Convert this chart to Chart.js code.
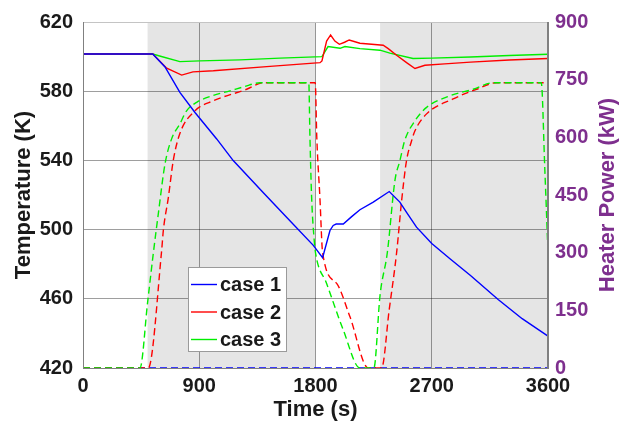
<!DOCTYPE html>
<html>
<head>
<meta charset="utf-8">
<script src="https://cdn.jsdelivr.net/npm/chart.js@4.4.1/dist/chart.umd.min.js"></script>
<style>
  html, body { margin: 0; padding: 0; background: #fff; }
  #wrap { width: 632px; height: 428px; }
</style>
</head>
<body>
<div id="wrap"><canvas id="heatChart"></canvas></div>
<script>
// series names and colours
const caseNames = ['case 1', 'case 2', 'case 3'];
const caseColors = ['#0000ff', '#ff0000', '#00ee00'];

// axis ticks
const timeTicks = [0, 900, 1800, 2700, 3600];
const tempTicks = [420, 460, 500, 540, 580, 620];
const powerTicks = [0, 150, 300, 450, 600, 750, 900];

// heater-on periods (s), shaded grey
const heatedSpans = [[500, 1800], [2300, 3600]];

// temperature (K)
const case1TempTime = [0, 540, 635, 750, 867, 1035, 1163, 1400, 1600, 1783, 1855, 1912, 1937, 1960, 2015, 2080, 2144, 2247, 2371, 2453, 2505, 2582, 2700, 2841, 3000, 3214, 3400, 3600];
const case1Temp = [601.5, 601.5, 594.0, 579.3, 567.7, 552.4, 539.9, 521.0, 505.3, 490.9, 483.8, 499.5, 502.4, 503.2, 503.2, 507.5, 511.5, 515.9, 522.0, 515.9, 510.0, 501.4, 492.0, 483.2, 473.5, 459.6, 448.5, 438.4];

const case2TempTime = [0, 540, 648, 764, 851, 1009, 1422, 1835, 1850, 1886, 1917, 1950, 1985, 2025, 2061, 2144, 2324, 2363, 2428, 2505, 2570, 2647, 2800, 3000, 3300, 3600];
const case2Temp = [601.5, 601.5, 593.3, 589.3, 591.2, 591.8, 594.2, 596.5, 597.5, 609.0, 612.5, 609.0, 607.1, 608.3, 609.6, 607.7, 606.6, 604.6, 600.8, 596.5, 593.1, 595.0, 595.8, 596.8, 598.0, 598.9];

const case3TempTime = [0, 540, 600, 750, 905, 1215, 1525, 1850, 1897, 1990, 2028, 2144, 2299, 2376, 2555, 2700, 3000, 3300, 3600];
const case3Temp = [601.5, 601.5, 600.2, 597.1, 597.5, 598.1, 599.1, 600.0, 605.8, 604.8, 605.8, 604.6, 603.7, 602.0, 598.9, 599.1, 599.8, 600.6, 601.4];

// heater power (kW)
const case1PowerTime = [0, 3600];
const case1Power = [0, 0];

const case2PowerTime = [0, 505, 609, 622, 661, 699, 750, 867, 1009, 1267, 1396, 1798, 1810, 1834, 1855, 1964, 2067, 2209, 2312, 2370, 2428, 2467, 2505, 2544, 2570, 2660, 2866, 3047, 3202, 3600];
const case2Power = [0, 0, 306, 358, 444, 540, 610, 669, 695, 725, 742, 742, 600, 444, 300, 220, 133, 0, 0, 150, 300, 436, 540, 591, 617, 661, 700, 725, 742, 742];

const case3PowerTime = [0, 441, 500, 545, 583, 635, 686, 750, 802, 880, 1000, 1138, 1250, 1370, 1748, 1757, 1770, 1790, 1800, 1886, 2015, 2144, 2252, 2300, 2356, 2415, 2454, 2490, 2570, 2660, 2841, 3021, 3176, 3548, 3575, 3600];
const case3Power = [0, 0, 170, 300, 401, 531, 596, 635, 669, 691, 708, 721, 732, 742, 742, 600, 444, 332, 300, 220, 99, 0, 0, 190, 300, 488, 540, 591, 643, 678, 708, 725, 742, 742, 520, 300];

const purple = '#7e2f8e';
const inkColor = '#1a1a1a';
const fontFamily = '"Liberation Sans", Arial, sans-serif';

const toPoints = (xs, ys) => xs.map((x, i) => ({ x: x, y: ys[i] }));

// grey bands behind the grid
const shadePlugin = {
    id: 'shade',
    beforeDraw(chart) {
        const { ctx, chartArea, scales } = chart;
        ctx.save();
        ctx.fillStyle = '#e5e5e5';
        heatedSpans.forEach(([a, b]) => {
            const x0 = scales.x.getPixelForValue(a);
            const x1 = scales.x.getPixelForValue(b);
            ctx.fillRect(x0, chartArea.top, x1 - x0, chartArea.bottom - chartArea.top);
        });
        ctx.restore();
    }
};

// plot frame, right-hand title (reads bottom to top) and the legend box
const frameLegendPlugin = {
    id: 'frameLegend',
    afterDraw(chart) {
        const { ctx, chartArea } = chart;
        const { left, right, top, bottom } = chartArea;
        ctx.save();
        ctx.lineWidth = 1;
        ctx.strokeStyle = '#c4c4c4';
        ctx.beginPath();
        ctx.moveTo(left, top + 0.5);
        ctx.lineTo(right, top + 0.5);
        ctx.stroke();
        ctx.strokeStyle = '#808080';
        ctx.beginPath();
        ctx.moveTo(left + 0.5, top);
        ctx.lineTo(left + 0.5, bottom);
        ctx.moveTo(right - 0.5, top);
        ctx.lineTo(right - 0.5, bottom);
        ctx.stroke();

        // y2 title
        ctx.save();
        ctx.translate(608, (top + bottom) / 2);
        ctx.rotate(-Math.PI / 2);
        ctx.font = 'bold 22px ' + fontFamily;
        ctx.fillStyle = purple;
        ctx.textAlign = 'center';
        ctx.textBaseline = 'middle';
        ctx.fillText('Heater Power (kW)', 0, 0);
        ctx.restore();

        // legend
        const bx = 188.5, by = 267.5, bw = 98, bh = 84;
        ctx.fillStyle = '#ffffff';
        ctx.fillRect(bx, by, bw, bh);
        ctx.strokeStyle = '#9a9a9a';
        ctx.strokeRect(bx, by, bw, bh);
        ctx.font = 'bold 20px ' + fontFamily;
        ctx.textBaseline = 'middle';
        ctx.textAlign = 'left';
        caseNames.forEach((name, i) => {
            const y = 284.5 + i * 27.5;
            ctx.strokeStyle = caseColors[i];
            ctx.lineWidth = 1.4;
            ctx.beginPath();
            ctx.moveTo(191, y);
            ctx.lineTo(217, y);
            ctx.stroke();
            ctx.fillStyle = inkColor;
            ctx.fillText(name, 220, y + 1);
        });
        ctx.restore();
    }
};

const tempSets = [
    [case1TempTime, case1Temp],
    [case2TempTime, case2Temp],
    [case3TempTime, case3Temp]
].map(([t, v], i) => ({
    label: caseNames[i],
    data: toPoints(t, v),
    yAxisID: 'y',
    borderColor: caseColors[i],
    borderWidth: 1.4,
    pointRadius: 0,
    tension: 0,
    order: 0
}));

const powerSets = [
    [case1PowerTime, case1Power],
    [case2PowerTime, case2Power],
    [case3PowerTime, case3Power]
].map(([t, v], i) => ({
    label: caseNames[i] + ' power',
    data: toPoints(t, v),
    yAxisID: 'y2',
    borderColor: caseColors[i],
    borderWidth: 1.4,
    borderDash: [7, 4],
    pointRadius: 0,
    cubicInterpolationMode: 'monotone',
    order: 3 - i
}));

const tickFont = { family: fontFamily, size: 20, weight: 'bold' };
const titleFont = { family: fontFamily, size: 22, weight: 'bold' };

new Chart(document.getElementById('heatChart'), {
    type: 'line',
    data: { datasets: tempSets.concat(powerSets) },
    options: {
        responsive: true,
        maintainAspectRatio: false,
        animation: false,
        layout: { padding: { top: 21, left: 0, right: 0, bottom: 0 } },
        plugins: { legend: { display: false }, tooltip: { enabled: false } },
        scales: {
            x: {
                type: 'linear',
                min: 0,
                max: 3600,
                afterFit: (s) => { s.height = 60; },
                afterBuildTicks: (s) => { s.ticks = timeTicks.map(v => ({ value: v })); },
                ticks: { color: inkColor, padding: 6, font: tickFont, callback: (v) => String(v) },
                grid: { color: 'rgba(0,0,0,0.38)', drawTicks: false },
                border: { color: '#808080' },
                title: {
                    display: true,
                    text: 'Time (s)',
                    color: inkColor,
                    padding: { top: 0, bottom: 5 },
                    font: titleFont
                }
            },
            y: {
                position: 'left',
                min: 420,
                max: 620,
                afterFit: (s) => { s.width = 83; },
                afterBuildTicks: (s) => { s.ticks = tempTicks.map(v => ({ value: v })); },
                ticks: { color: inkColor, padding: 10, font: tickFont, callback: (v) => String(v) },
                grid: { color: 'rgba(0,0,0,0.38)', drawTicks: false },
                border: { color: '#808080' },
                title: {
                    display: true,
                    text: 'Temperature (K)',
                    color: inkColor,
                    padding: { top: 11, bottom: 0 },
                    font: titleFont
                }
            },
            y2: {
                position: 'right',
                min: 0,
                max: 900,
                afterFit: (s) => { s.width = 84; },
                afterBuildTicks: (s) => { s.ticks = powerTicks.map(v => ({ value: v })); },
                ticks: { color: purple, padding: 7, font: tickFont, callback: (v) => String(v) },
                grid: { display: false, drawTicks: false },
                border: { color: '#808080' },
                title: { display: false }
            }
        }
    },
    plugins: [shadePlugin, frameLegendPlugin]
});
</script>
</body>
</html>
